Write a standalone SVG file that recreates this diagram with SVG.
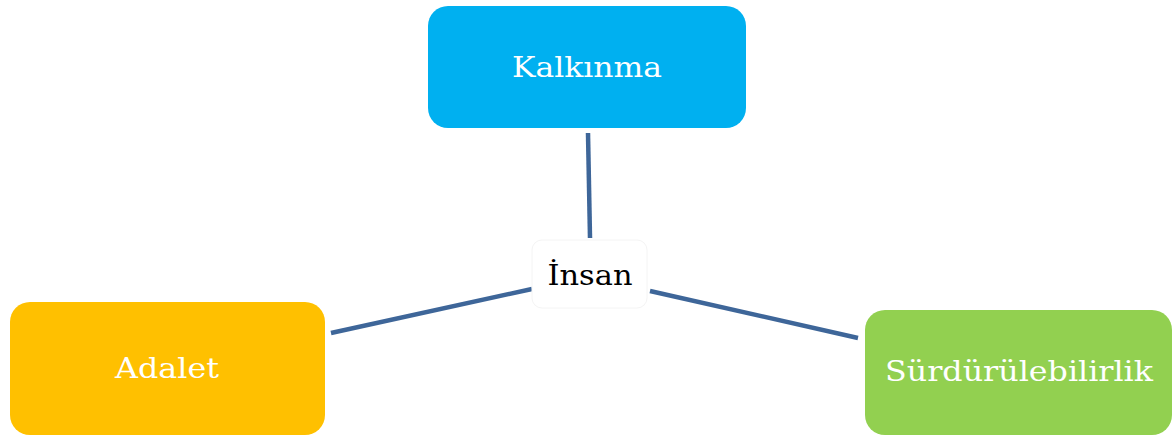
<svg xmlns="http://www.w3.org/2000/svg" width="1173" height="436" viewBox="0 0 1173 436">
<style>
.lbl{font-family:"DejaVu Serif","Liberation Serif",serif;font-size:28px;fill:#ffffff;text-anchor:middle}
.conn{stroke:#3e6699;stroke-width:4.5;fill:none}
</style>
<rect width="1173" height="436" fill="#ffffff"/>
<g id="connectors">
<line class="conn" x1="588" y1="133" x2="590" y2="238"/>
<line class="conn" x1="331" y1="333" x2="532" y2="289"/>
<line class="conn" x1="650" y1="291" x2="858" y2="338"/>
</g>
<g id="kalkinma">
<rect x="428" y="6" width="318" height="122" rx="20" fill="#00b0f0"/>
<text class="lbl" x="587" y="77" textLength="150" lengthAdjust="spacingAndGlyphs">Kalkınma</text>
</g>
<g id="insan">
<rect x="532" y="240" width="115" height="68" rx="10" fill="#ffffff" stroke="#f4f4f4" stroke-width="1"/>
<text class="lbl" x="590" y="285" style="fill:#000000" textLength="85" lengthAdjust="spacingAndGlyphs">İnsan</text>
</g>
<g id="adalet">
<rect x="10" y="302" width="315" height="133" rx="20" fill="#ffc000"/>
<text class="lbl" x="167" y="378" textLength="104" lengthAdjust="spacingAndGlyphs">Adalet</text>
</g>
<g id="surdurulebilirlik">
<rect x="865" y="310" width="307" height="125" rx="20" fill="#92d050"/>
<text class="lbl" x="1019" y="381" textLength="268" lengthAdjust="spacingAndGlyphs">Sürdürülebilirlik</text>
</g>
</svg>
